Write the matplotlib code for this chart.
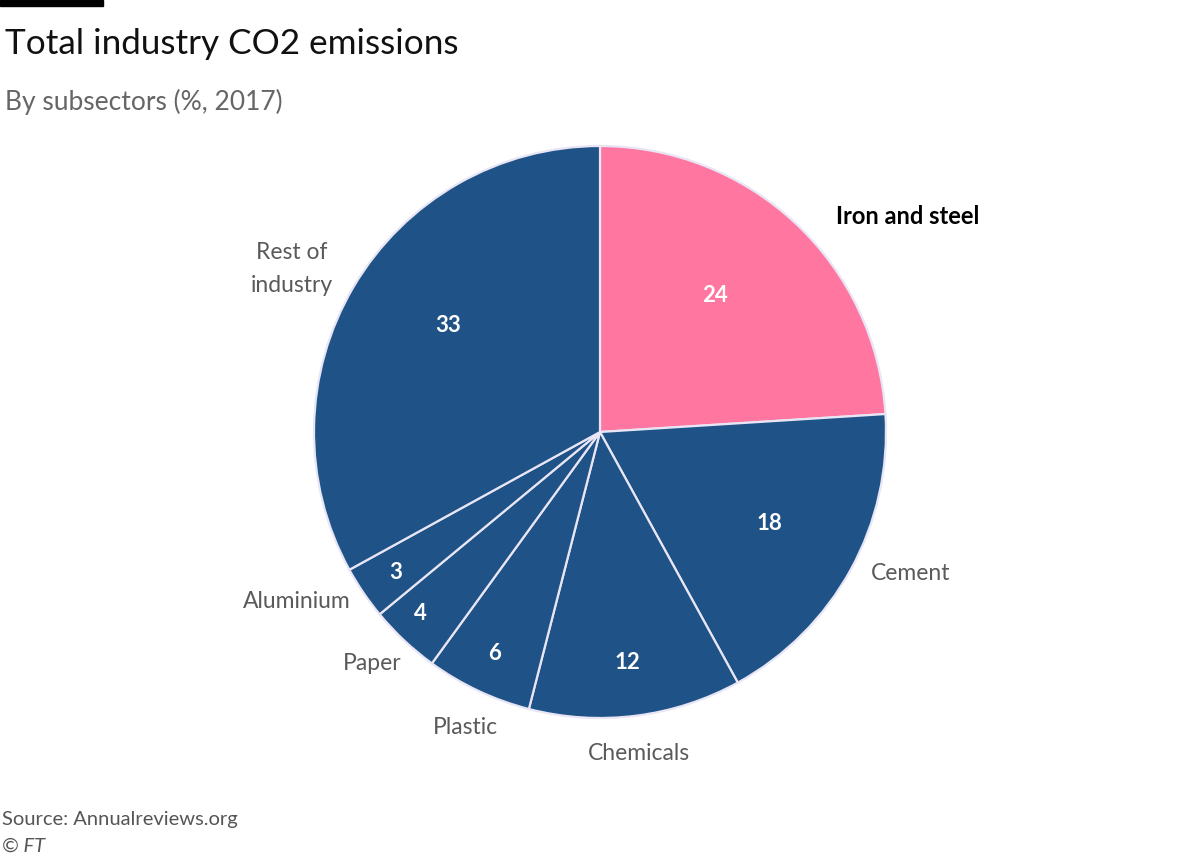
import numpy as np
import matplotlib
matplotlib.use("Agg")
import matplotlib.pyplot as plt
from matplotlib.patches import Rectangle

# ---- data ----
categories = ["Iron and steel", "Cement", "Chemicals", "Plastic", "Paper", "Aluminium", "Rest of\nindustry"]
values = [24, 18, 12, 6, 4, 3, 33]

# ---- styling / layout ----
PINK = "#ff76a1"
NAVY = "#1f5287"
colors = [PINK] + [NAVY] * 6
label_dist = [1.313, 1.194, 1.131, 1.136, 1.135, 1.213, 1.219]
label_rot = [-11.7, 4.4, -0.3, 0.8, -1.4, -5.0, 2.7]      # angular nudge (degrees)
value_dist = [0.625, 0.674, 0.81, 0.86, 0.895, 0.867, 0.648]
value_rot = [3.2, 0.6, -0.5, -0.3, -1.5, 0.4, -4.3]
label_bold = [True] + [False] * 6

plt.rcParams['font.family'] = ['Lato', 'DejaVu Sans']

fig = plt.figure(figsize=(12, 8.56), dpi=100)
fig.patch.set_facecolor("white")

W, H = 1200, 856
cx, cy, r = 600, 432, 286
ax = fig.add_axes([(cx - r) / W, (H - cy - r) / H, 2 * r / W, 2 * r / H])

wedges, _ = ax.pie(values, colors=colors, startangle=90, counterclock=False,
                   radius=1, wedgeprops=dict(edgecolor="#e8e6f5", linewidth=1.6))
ax.set_xlim(-1, 1)
ax.set_ylim(-1, 1)
ax.set_aspect("equal")
ax.axis("off")

for w, cat, v, ld, lr, vd, vr, bold in zip(wedges, categories, values, label_dist,
                                           label_rot, value_dist, value_rot, label_bold):
    mid = (w.theta1 + w.theta2) / 2
    va_ = np.deg2rad(mid + vr)
    ax.text(vd * np.cos(va_), vd * np.sin(va_), str(v), color="white",
            fontsize=16, fontweight="bold", ha="center", va="center")
    a = np.deg2rad(mid + lr)
    ax.text(ld * np.cos(a), ld * np.sin(a), cat,
            color="black" if bold else "#5a5a5a",
            fontsize=17 if bold else 16.5, fontweight="bold" if bold else "normal",
            ha="center", va="center", linespacing=1.7, clip_on=False)

# top black bar
fig.patches.append(Rectangle((0, 1 - 6 / H), 103 / W, 6 / H, transform=fig.transFigure,
                             color="black", zorder=5))

fig.text(5 / W, 1 - 44 / H, "Total industry CO2 emissions", fontsize=25.3,
         color="#111111", ha="left", va="center")
fig.text(5 / W, 1 - 102 / H, "By subsectors (%, 2017)", fontsize=19,
         color="#666666", ha="left", va="center")
fig.text(2 / W, 1 - 820 / H, "Source: Annualreviews.org", fontsize=14.5,
         color="#555555", ha="left", va="center")
fig.text(2 / W, 1 - 846 / H, "© FT", fontsize=14.5, color="#555555",
         ha="left", va="center", style="italic")

fig.savefig("out.png", dpi=100, facecolor="white")
